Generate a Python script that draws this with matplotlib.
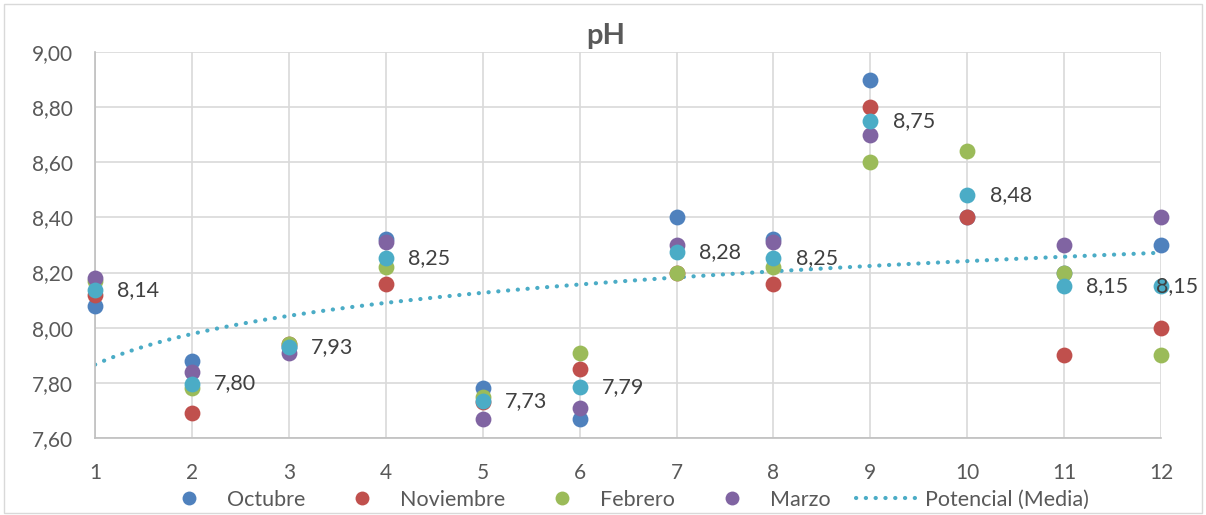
import numpy as np
import matplotlib
matplotlib.use('Agg')
import matplotlib.pyplot as plt
from matplotlib.lines import Line2D
from matplotlib.patches import Rectangle
from matplotlib.ticker import FuncFormatter

plt.rcParams['font.family'] = ['Lato', 'DejaVu Sans']

meses = [1, 2, 3, 4, 5, 6, 7, 8, 9, 10, 11, 12]
octubre = [8.08, 7.88, 7.93, 8.32, 7.78, 7.67, 8.40, 8.32, 8.90, 8.40, 8.20, 8.30]
noviembre = [8.12, 7.69, 7.94, 8.16, 7.73, 7.85, 8.20, 8.16, 8.80, 8.40, 7.90, 8.00]
febrero = [8.17, 7.78, 7.94, 8.22, 7.75, 7.91, 8.20, 8.22, 8.60, 8.64, 8.20, 7.90]
marzo = [8.18, 7.84, 7.91, 8.31, 7.67, 7.71, 8.30, 8.31, 8.70, np.nan, 8.30, 8.40]

series = [("Octubre", octubre, "#4F81BD"),
          ("Noviembre", noviembre, "#C0504D"),
          ("Febrero", febrero, "#9BBB59"),
          ("Marzo", marzo, "#8064A2")]
media_color = "#4BACC6"
dotted = (0, (0.05, 2.3))

x = np.array(meses, dtype=float)
media = np.nanmean(np.array([octubre, noviembre, febrero, marzo]), axis=0)

fig = plt.figure(figsize=(12.06, 5.15), dpi=100)
fig.patches.append(Rectangle((0.003, 0.004), 0.994, 0.988, transform=fig.transFigure,
                             fill=False, edgecolor="#D9D9D9", linewidth=1))
ax = fig.add_axes([0.0788, 0.1495, 0.884, 0.7495])

ax.set_xlim(1, 12)
ax.set_ylim(7.6, 9.0)
ax.set_xticks(meses)
ax.set_yticks(np.arange(7.6, 9.01, 0.2))
ax.yaxis.set_major_formatter(FuncFormatter(lambda v, p: f"{v:.2f}".replace(".", ",")))
ax.grid(True, color="#D9D9D9", linewidth=1.2)
ax.set_axisbelow(True)
for s in ["top", "right"]:
    ax.spines[s].set_visible(False)
for s in ["left", "bottom"]:
    ax.spines[s].set_color("#BFBFBF")
    ax.spines[s].set_linewidth(1.2)
ax.tick_params(length=0, labelsize=15, colors="#595959")
ax.tick_params(axis="y", pad=16)
ax.tick_params(axis="x", pad=18)

for name, vals, col in series:
    ax.scatter(x, vals, s=130, color=col, zorder=3, clip_on=False, linewidths=0)
ax.scatter(x, media, s=130, color=media_color, zorder=4, clip_on=False, linewidths=0)

# power trendline on the mean
b, lna = np.polyfit(np.log(x), np.log(media), 1)
xt = np.linspace(1, 12, 300)
ax.plot(xt, np.exp(lna) * xt ** b, linestyle=dotted, color=media_color,
        linewidth=3, dash_capstyle="round", zorder=2)

for i, (xi, yi) in enumerate(zip(x, media)):
    dx = -4 if i == len(x) - 1 else 16
    ax.annotate(f"{yi:.2f}".replace(".", ","), (xi, yi), xytext=(dx, 0),
                textcoords="offset points", va="center", ha="left",
                fontsize=15.5, color="#404040", zorder=5, annotation_clip=False)

fig.text(0.502, 0.93, "pH", ha="center", va="center", fontsize=21,
         fontweight="bold", color="#595959")

handles = [Line2D([], [], marker="o", linestyle="none", markersize=10,
                  markerfacecolor=c, markeredgewidth=0) for _, _, c in series]
handles.append(Line2D([], [], linestyle=dotted, color=media_color,
                      linewidth=3, dash_capstyle="round"))
labels = [n for n, _, _ in series] + ["Potencial (Media)"]
fig.legend(handles, labels, loc="center", bbox_to_anchor=(0.517, 0.03), ncol=5,
           frameon=False, fontsize=15.5, labelcolor="#595959", handlelength=2.9,
           columnspacing=1.2, handletextpad=0.3, borderpad=0)

fig.savefig("out.png", dpi=100)
